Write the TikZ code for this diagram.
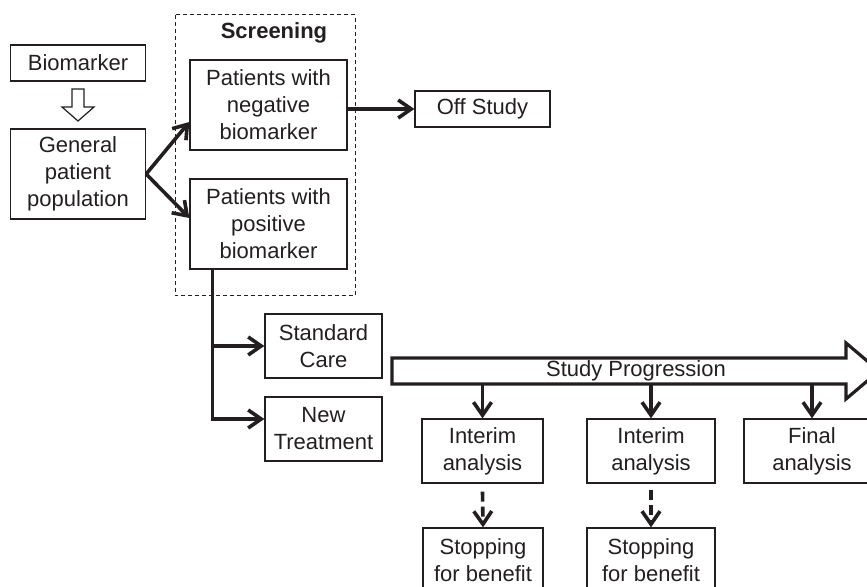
\documentclass[tikz,border=0pt]{standalone}
\usepackage{fontspec}
\setmainfont{Liberation Sans}
\usetikzlibrary{arrows.meta}
\definecolor{ink}{RGB}{35, 31, 32}

\begin{document}
\begin{tikzpicture}[x=0.5pt, y=-0.5pt,
        box/.style={draw=ink, line width=0.65pt, inner sep=0pt, align=center, text=ink,
                    font=\fontsize{11}{13.5}\selectfont},
        label/.style={text=ink, inner sep=0pt, font=\fontsize{11}{13.5}\selectfont},
        arr/.style={draw=ink, line width=1.8pt, -{Straight Barb[length=6.5pt, width=9pt]}},
        dasharr/.style={arr, dash pattern=on 5pt off 2.5pt}]
            \useasboundingbox (0,0) rectangle (867,587);
            \draw[ink, line width=0.5pt, dash pattern=on 2pt off 1.5pt]   (175, 15) rectangle (355,296);
            \node[label, font=\bfseries\fontsize{11}{13.5}\selectfont] (scr) at (274, 33) {Screening};
            \node[box, minimum width=67.5pt, minimum height=18pt] (bio)   at ( 78.0, 63) {Biomarker};
            \node[box, minimum width=67.5pt, minimum height=45pt] (gen)   at ( 78.0,174) {General\\patient\\population};
            \node[box, minimum width=78.5pt, minimum height=45pt] (neg)   at (268.5,105) {Patients with\\negative\\biomarker};
            \node[box, minimum width=78.5pt, minimum height=45pt] (pos)   at (268.5,224) {Patients with\\positive\\biomarker};
            \node[box, minimum width=67.5pt, minimum height=18pt] (off)   at (482.5,109) {Off Study};
            \node[box, minimum width=58.5pt, minimum height=32pt] (std)   at (323.5,346) {Standard\\Care};
            \node[box, minimum width=58.5pt, minimum height=32pt] (new)   at (323.5,429) {New\\Treatment};
            \node[box, minimum width=60.5pt, minimum height=32pt] (int1)  at (482.5,451) {Interim\\analysis};
            \node[box, minimum width=64.0pt, minimum height=32pt] (int2)  at (651.0,451) {Interim\\analysis};
            \node[box, minimum width=68.0pt, minimum height=32pt] (fin)   at (812.0,451) {Final\\analysis};
            \node[box, minimum width=60.0pt, minimum height=32pt] (stop1) at (483.0,560) {Stopping\\for benefit};
            \node[box, minimum width=64.0pt, minimum height=32pt] (stop2) at (651.0,560) {Stopping\\for benefit};
            \filldraw[draw=ink, fill=white, line width=0.6pt]
                (72, 89) -- (84, 89) -- (84,107) -- (94,107) -- (78,121) -- (62,107) -- (72,107) -- cycle;
            \filldraw[draw=ink, fill=white, line width=1.6pt]
                (392,358) -- (846,358) -- (846,343) -- (879,371) -- (846,399) -- (846,384) -- (392,384) -- cycle;
            \node[label] (prog) at (636,371) {Study Progression};
            \coordinate (shaft) at (392,384);
            \coordinate (split) at ([xshift=11.5pt]pos.south west);
            \draw[arr]     (gen.east)              -- ([yshift=-8.5pt]neg.west);
            \draw[arr]     (gen.east)              -- ([yshift=3pt]pos.west);
            \draw[arr]     (neg.east |- off.west)  -- (off.west);
            \draw[arr]     (split)                 |- ([yshift=5pt]new.west);
            \draw[arr]     (split |- std.west)     -- (std.west);
            \draw[arr]     (shaft -| int1.north)   -- (int1.north);
            \draw[arr]     (shaft -| int2.north)   -- (int2.north);
            \draw[arr]     (shaft -| fin.north)    -- (fin.north);
            \draw[dasharr] ([yshift=-4pt]int1.south) -- (stop1.north);
            \draw[dasharr] ([yshift=-3pt]int2.south) -- (stop2.north);
        \end{tikzpicture}
\end{document}
